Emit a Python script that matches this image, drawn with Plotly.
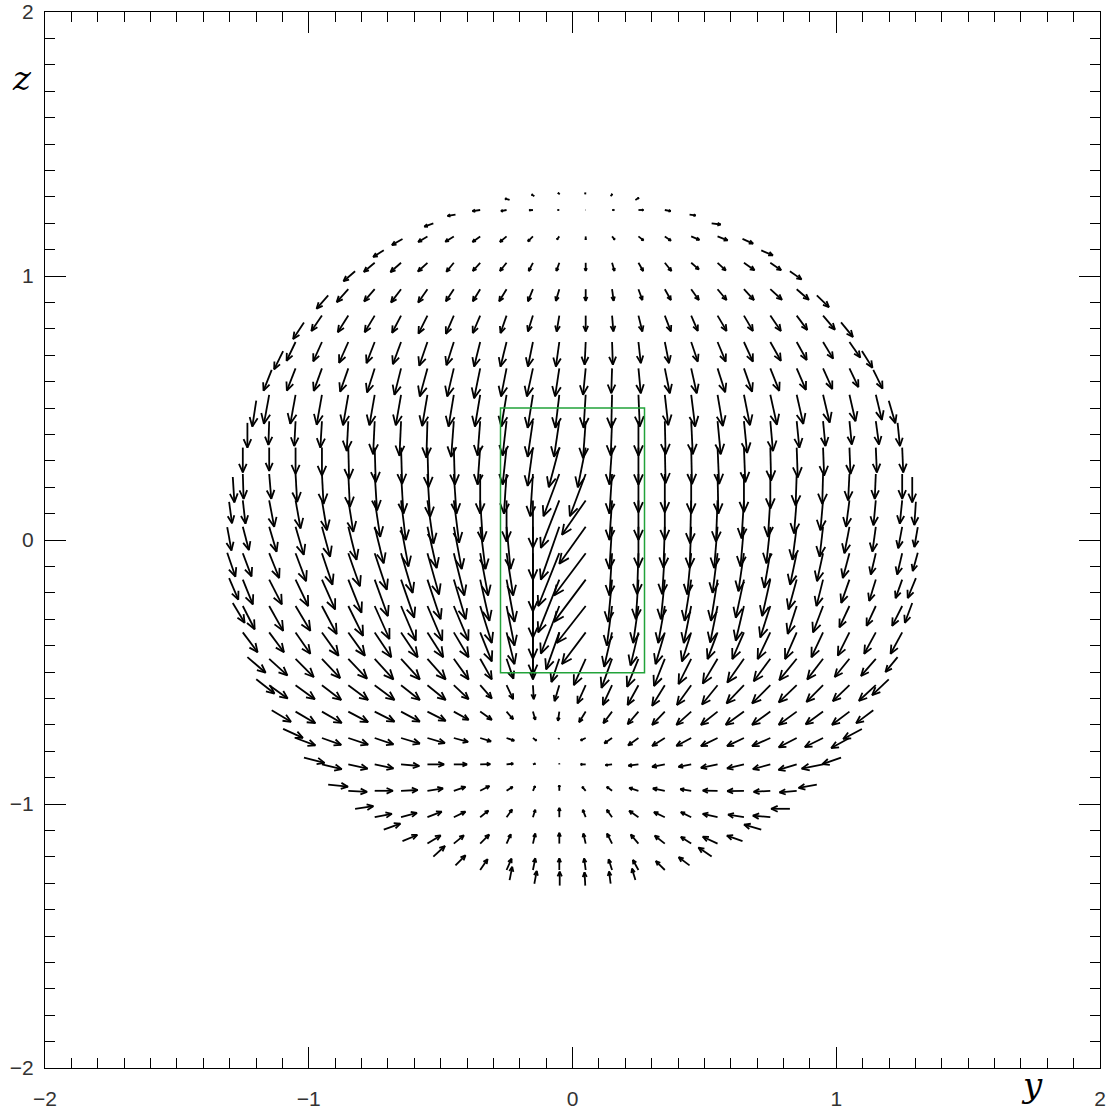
import math
import plotly.graph_objects as go

# ---------------- data ----------------
# nominal sample grid (axis units): column centres in y, row centres in z (top -> bottom)
COL_Y = [round(-1.35 + 0.1 * i, 2) for i in range(28)]
ROW_Z = [1.35, 1.25, 1.15, 1.05, 0.95, 0.85, 0.75, 0.65, 0.55, 0.45, 0.35, 0.25, 0.15, 0.05,
         -0.05, -0.15, -0.25, -0.35, -0.45, -0.55, -0.65, -0.75, -0.85, -0.95, -1.05, -1.15, -1.25, -1.35]
LIMB_RADIUS = 1.31      # samples outside this radius sit on the limb of the sphere
VECTOR_UNIT = 0.01      # axis length of one field unit

# horizontal (y) field component, one list per row, centred on y = 0
U_ROWS = [
    [-1.7, -1.0, -0.6, 0.0, 0.6, 1.3],
    [-3.4, -3.0, -2.9, -2.1, -1.4, -0.6, 0.1, 0.8, 1.9, 2.2, 2.3, 3.4],
    [-4.0, -4.0, -3.5, -3.2, -2.9, -2.5, -1.9, -0.9, 0.0, 1.0, 1.9, 2.3, 3.1, 3.8, 4.0, 4.4],
    [-4.4, -4.1, -4.0, -3.6, -2.8, -2.8, -2.5, -1.6, -1.1, 0.0, 0.9, 1.8, 2.5, 2.9, 3.1, 4.0, 4.1, 4.4],
    [-4.4, -4.4, -4.0, -3.8, -3.5, -3.0, -2.8, -2.8, -1.9, -1.3, 0.0, 0.6, 1.5, 2.3, 2.9, 3.4, 3.8, 4.4, 4.6, 4.6],
    [-4.1, -4.0, -4.0, -3.8, -3.4, -3.4, -3.0, -2.8, -2.3, -1.9, -1.0, 0.0, 0.5, 1.5, 2.3, 2.5, 3.4, 3.4, 4.0, 4.0, 4.5, 4.5],
    [-3.4, -3.4, -3.3, -3.5, -3.1, -3.1, -3.1, -2.8, -2.3, -2.3, -1.9, -1.3, -0.4, 0.3, 0.9, 1.6, 2.5, 3.1, 3.4, 4.0, 3.8, 3.8, 4.1, 4.0],
    [-3.1, -3.3, -3.1, -3.1, -2.9, -2.5, -2.9, -2.5, -2.3, -2.1, -2.3, -1.6, -1.0, -0.3, 0.9, 1.9, 2.1, 2.9, 3.1, 3.4, 3.5, 3.5, 3.4, 3.5],
    [-1.5, -2.0, -2.0, -2.0, -2.0, -2.0, -2.0, -2.0, -2.0, -2.0, -2.0, -2.0, -1.5, -0.8, -0.3, 0.5, 1.3, 1.5, 2.0, 2.3, 2.5, 2.5, 2.5, 2.3, 2.3, 2.5],
    [0.0, -0.3, -0.5, -0.6, -0.6, -0.6, -0.6, -0.4, -1.0, -1.0, -1.5, -2.0, -2.0, -1.0, -0.5, 0.0, 0.3, 0.6, 1.2, 1.2, 1.0, 1.0, 0.9, 0.9, 1.2, 0.9],
    [0.0, 0.0, 0.0, 0.0, 0.3, 0.4, 0.4, 0.4, 0.4, -1.0, -1.5, -2.0, -4.0, -3.0, -1.0, 0.0, 0.3, 0.3, 0.6, 0.5, 0.3, 0.4, 0.4, 0.4, 0.4, 0.4],
    [0.6, 0.3, 0.8, 0.6, 0.6, 0.6, 0.9, 0.9, 1.0, 1.0, 0.0, -1.0, -1.0, -6.0, -6.0, -1.0, 0.0, 0.0, 0.0, 0.3, 0.0, 0.0, -0.4, -0.3, -0.5, -0.4, 0.0, 0.0],
    [1.1, 1.0, 1.9, 1.9, 1.9, 1.9, 2.1, 1.8, 2.3, 2.0, 1.0, 0.0, 0.0, -7.0, -9.0, -1.0, 0.0, 0.0, -0.4, -0.6, -0.9, -0.9, -1.0, -1.0, -1.3, -0.9, -0.9, -0.6],
    [1.6, 2.3, 2.8, 3.1, 3.1, 3.1, 3.4, 2.8, 3.5, 3.0, 2.0, 1.5, 0.0, -7.0, -10.0, -1.0, 0.0, -0.5, -0.6, -1.3, -1.3, -1.5, -1.6, -1.3, -1.9, -1.3, -1.5, -1.3],
    [3.1, 3.3, 3.8, 4.0, 4.0, 4.4, 4.6, 4.4, 4.4, 4.0, 3.0, 2.5, 0.0, -8.0, -12.0, -1.0, -0.5, -1.0, -1.5, -1.9, -2.1, -2.3, -2.5, -2.3, -2.5, -1.9, -1.9, -1.9],
    [3.5, 3.8, 4.8, 4.8, 5.0, 5.0, 5.0, 5.0, 5.0, 4.5, 3.5, 3.0, 0.0, -8.0, -12.0, -1.5, -1.0, -1.5, -2.5, -2.5, -3.1, -3.1, -3.1, -2.5, -3.1, -2.5, -2.5, -3.1],
    [4.5, 4.5, 5.3, 5.6, 5.6, 5.6, 5.6, 5.6, 5.6, 5.5, 4.4, 3.0, 0.0, -7.0, -11.0, -2.0, -2.0, -2.5, -2.8, -2.8, -3.1, -3.8, -3.4, -3.8, -3.8, -3.5, -3.8, -2.8],
    [5.6, 5.6, 5.6, 6.3, 6.3, 6.3, 6.3, 6.0, 5.6, 4.4, 3.0, 0.0, -5.0, -9.0, -3.0, -3.0, -3.5, -3.5, -3.8, -4.4, -4.8, -4.4, -4.4, -4.4, -4.4, -4.4],
    [6.9, 6.9, 6.9, 6.9, 7.1, 7.1, 7.1, 6.9, 5.6, 4.4, 2.6, 0.0, -3.0, -4.5, -4.0, -4.3, -4.1, -4.8, -5.6, -6.3, -6.3, -6.6, -6.0, -5.6, -5.6, -4.6],
    [6.9, 7.0, 7.3, 7.3, 7.5, 7.5, 7.1, 6.9, 5.6, 4.4, 2.5, 0.3, -1.8, -3.1, -3.5, -4.1, -4.8, -5.4, -5.9, -6.6, -6.9, -6.8, -6.3, -6.3, -6.4, -6.3],
    [7.3, 7.5, 7.5, 7.5, 7.5, 7.1, 6.9, 5.6, 4.4, 2.5, 0.9, -0.5, -2.5, -3.3, -4.1, -4.8, -5.6, -6.3, -6.9, -6.9, -6.8, -6.6, -6.6, -6.5],
    [7.5, 7.5, 7.3, 7.5, 7.1, 7.1, 6.6, 5.4, 4.1, 2.9, 1.3, -0.3, -1.9, -2.9, -3.9, -4.8, -5.6, -6.3, -6.4, -6.9, -6.8, -6.9, -6.9, -7.1],
    [7.8, 7.5, 7.3, 7.1, 6.9, 6.3, 5.0, 3.8, 2.5, 0.9, 0.0, -1.9, -2.5, -3.8, -4.8, -4.8, -6.3, -6.4, -6.6, -6.9, -8.1, -7.1],
    [7.5, 7.1, 6.9, 6.3, 5.9, 4.4, 3.5, 2.3, 0.8, 0.0, -1.3, -2.0, -3.5, -4.5, -4.1, -5.6, -6.3, -6.3, -6.5, -6.9],
    [6.9, 6.5, 6.0, 5.4, 4.4, 3.1, 2.1, 0.9, 0.0, -1.1, -2.0, -3.5, -4.1, -3.9, -5.6, -6.0, -6.6, -7.1],
    [6.3, 5.6, 5.0, 3.8, 3.4, 1.6, 0.9, 0.0, -0.9, -1.9, -2.9, -3.8, -3.9, -5.6, -5.9, -6.5],
    [4.4, 3.8, 2.8, 1.9, 0.9, 0.0, -0.6, -1.3, -2.1, -3.4, -4.1, -5.0],
    [1.0, 0.9, 0.0, -0.3, -0.6, -1.3],
]

# vertical (z) field component, same layout
V_ROWS = [
    [0.5, 0.7, 0.6, 0.6, 0.8, 0.8],
    [-1.2, -0.5, -0.4, -0.4, -0.1, 0.0, 0.0, 0.0, 0.0, -0.4, -0.3, -0.4],
    [-2.5, -2.3, -2.1, -2.0, -2.1, -2.1, -1.9, -1.2, -1.2, -1.2, -1.5, -1.6, -1.3, -1.5, -1.8, -1.9],
    [-3.8, -3.4, -3.5, -3.3, -3.4, -3.1, -3.1, -3.1, -3.1, -3.1, -3.1, -3.1, -3.1, -2.5, -2.9, -2.8, -2.8, -3.1],
    [-5.0, -4.9, -4.6, -5.0, -5.0, -4.6, -4.6, -4.6, -4.6, -4.4, -4.4, -4.4, -4.1, -4.1, -4.1, -4.1, -4.1, -4.0, -4.0, -4.4],
    [-6.3, -5.8, -6.3, -6.3, -6.5, -6.8, -6.9, -6.6, -6.6, -6.0, -6.0, -6.0, -6.0, -6.0, -6.0, -5.8, -5.8, -5.8, -5.8, -5.4, -5.3, -5.5],
    [-6.9, -7.1, -7.3, -7.9, -8.0, -8.4, -9.0, -8.8, -9.3, -9.3, -9.3, -9.3, -8.6, -8.6, -8.0, -8.0, -7.4, -7.4, -7.4, -7.1, -6.8, -6.3, -5.9, -6.3],
    [-7.9, -8.4, -8.5, -8.8, -9.1, -10.0, -10.6, -10.6, -11.3, -10.6, -10.6, -10.6, -10.0, -9.4, -9.4, -9.4, -9.4, -9.0, -8.8, -8.5, -8.1, -7.8, -7.1, -7.1],
    [-9.8, -11.0, -11.0, -11.3, -11.5, -11.5, -11.5, -11.8, -12.0, -12.0, -12.0, -12.5, -12.5, -12.5, -12.5, -12.0, -11.5, -12.0, -11.8, -11.5, -11.3, -11.0, -10.5, -10.0, -9.5, -8.5],
    [-9.4, -9.0, -9.4, -10.0, -11.3, -12.5, -13.1, -13.8, -13.5, -13.0, -13.0, -13.5, -13.5, -14.0, -13.0, -13.0, -12.5, -12.5, -12.5, -12.0, -11.3, -10.0, -9.4, -8.8, -8.8, -8.8],
    [-9.4, -8.8, -10.0, -10.6, -11.9, -13.1, -13.8, -15.0, -14.0, -14.0, -14.0, -14.5, -15.0, -15.0, -14.0, -14.0, -13.5, -13.8, -13.8, -13.1, -12.5, -11.3, -10.6, -10.0, -9.4, -9.4],
    [-9.6, -9.4, -9.4, -10.6, -11.3, -12.5, -13.8, -15.0, -16.3, -15.0, -15.0, -15.0, -16.0, -16.0, -16.0, -15.0, -14.5, -14.5, -15.0, -15.0, -14.4, -13.1, -11.9, -11.3, -10.0, -9.4, -9.4, -9.6],
    [-8.1, -8.8, -10.0, -10.6, -11.3, -11.9, -13.8, -15.0, -16.3, -16.0, -15.6, -15.6, -18.0, -18.0, -13.0, -15.0, -15.0, -15.0, -16.3, -15.6, -14.4, -13.8, -12.5, -11.3, -10.0, -9.4, -8.8, -8.8],
    [-8.8, -8.8, -9.4, -10.6, -11.3, -12.5, -13.8, -15.0, -15.6, -16.0, -16.0, -16.0, -20.0, -20.0, -14.0, -16.0, -15.5, -15.5, -15.6, -15.6, -15.0, -13.8, -12.5, -11.3, -10.0, -9.4, -8.1, -7.5],
    [-9.0, -8.8, -9.4, -10.6, -11.9, -12.5, -13.8, -15.0, -15.6, -16.0, -16.0, -16.0, -22.0, -20.0, -16.0, -16.0, -15.5, -15.5, -15.6, -15.0, -14.4, -13.1, -11.9, -10.6, -9.4, -8.1, -8.1, -6.9],
    [-8.1, -9.4, -9.4, -10.0, -11.3, -12.5, -13.8, -14.4, -15.0, -15.0, -15.6, -16.0, -22.0, -20.0, -16.0, -16.0, -15.0, -15.0, -15.6, -15.6, -14.4, -13.8, -11.3, -10.0, -8.8, -8.1, -7.0, -7.5],
    [-7.5, -8.8, -9.4, -9.4, -10.6, -11.3, -12.5, -13.1, -13.1, -13.0, -14.0, -15.0, -20.0, -18.0, -14.0, -15.0, -14.0, -14.0, -14.0, -13.8, -13.1, -11.9, -10.6, -10.0, -8.1, -7.5, -7.5, -7.5],
    [-7.5, -7.5, -8.1, -8.8, -8.8, -9.4, -9.4, -9.4, -9.4, -11.0, -12.0, -16.0, -14.0, -12.0, -13.0, -12.5, -12.0, -11.0, -10.1, -10.1, -10.1, -10.1, -9.4, -8.8, -8.1, -8.1],
    [-5.9, -6.3, -6.9, -7.3, -7.5, -7.8, -7.8, -7.8, -7.8, -7.8, -7.5, -7.8, -8.8, -10.0, -11.0, -10.6, -10.3, -9.6, -9.4, -9.0, -8.5, -8.1, -7.8, -6.9, -6.5, -5.6],
    [-5.4, -5.0, -5.3, -5.6, -5.6, -5.6, -5.6, -5.6, -5.3, -5.0, -5.3, -5.3, -6.0, -6.9, -7.5, -7.5, -7.8, -7.5, -7.3, -6.9, -6.9, -6.5, -6.3, -6.0, -5.9, -6.0],
    [-4.4, -4.4, -4.3, -4.0, -3.8, -3.8, -3.5, -3.1, -3.1, -2.9, -3.1, -3.5, -4.0, -4.4, -4.8, -5.0, -5.0, -5.0, -5.0, -5.0, -5.0, -4.8, -5.0, -4.9],
    [-3.4, -2.8, -2.6, -2.5, -2.4, -2.1, -1.9, -1.5, -1.3, -1.0, -1.0, -0.4, -0.9, -2.0, -2.8, -3.0, -3.0, -3.1, -3.1, -3.1, -3.5, -3.4, -3.8, -3.8],
    [-2.0, -1.8, -1.6, -1.5, -0.6, 0.0, 0.0, 0.1, 0.3, 0.3, 0.0, 0.0, -0.3, -0.5, -0.9, -0.9, -1.3, -1.5, -1.8, -2.1, -1.6, -2.5],
    [-0.8, -0.4, 0.0, 0.3, 0.9, 1.5, 1.8, 1.5, 1.8, 2.1, 1.5, 1.5, 1.1, 0.9, 0.6, 0.1, -0.1, -0.4, -0.6, -1.3],
    [1.0, 1.3, 1.6, 2.1, 2.1, 2.5, 2.9, 2.8, 3.5, 2.8, 2.8, 2.4, 1.9, 1.9, 1.3, 1.0, 0.6, 0.0],
    [2.3, 2.3, 3.1, 3.1, 3.4, 3.5, 3.8, 4.1, 3.8, 3.8, 3.4, 3.0, 2.5, 2.6, 2.1, 1.9],
    [4.0, 3.8, 4.1, 4.3, 4.4, 4.4, 4.4, 4.0, 3.8, 3.4, 3.1, 3.4],
    [5.0, 4.8, 5.3, 5.0, 4.6, 4.3],
]

BOX_Y = [-0.273, 0.273]
BOX_Z = [-0.503, 0.500]
AXIS_RANGE = [-2, 2]
MAJOR_TICKS = [-2, -1, 0, 1, 2]

# ---------------- build arrows ----------------
HEAD_FRAC = 0.38
HEAD_MAX = 0.042
HEAD_ANG = math.radians(24)

xs, ys = [], []
for z_nom, urow, vrow in zip(ROW_Z, U_ROWS, V_ROWS):
    n = len(urow)
    start = (len(COL_Y) - n) // 2
    for y_nom, u, v in zip(COL_Y[start:start + n], urow, vrow):
        r = math.hypot(y_nom, z_nom)
        s = LIMB_RADIUS / r if r > LIMB_RADIUS else 1.0
        x0, y0 = y_nom * s, z_nom * s
        dx, dy = u * VECTOR_UNIT, v * VECTOR_UNIT
        L = math.hypot(dx, dy)
        if L < 1e-9:
            dx, dy, L = 0.0, 0.003, 0.003
        x1, y1 = x0 + dx, y0 + dy
        xs += [x0, x1, None]
        ys += [y0, y1, None]
        h = min(HEAD_FRAC * L, HEAD_MAX)
        a = math.atan2(dy, dx)
        bx1 = x1 - h * math.cos(a - HEAD_ANG)
        by1 = y1 - h * math.sin(a - HEAD_ANG)
        bx2 = x1 - h * math.cos(a + HEAD_ANG)
        by2 = y1 - h * math.sin(a + HEAD_ANG)
        xs += [bx1, x1, bx2, None]
        ys += [by1, y1, by2, None]

fig = go.Figure()
fig.add_trace(go.Scatter(x=xs, y=ys, mode="lines",
                         line=dict(color="black", width=1.8),
                         hoverinfo="skip", showlegend=False))

fig.add_shape(type="rect", x0=BOX_Y[0], x1=BOX_Y[1], y0=BOX_Z[0], y1=BOX_Z[1],
              line=dict(color="#22a33a", width=1.5), layer="above")

axis_common = dict(
    range=AXIS_RANGE, tickvals=MAJOR_TICKS, ticks="inside", ticklen=21, tickwidth=1,
    tickcolor="black", showline=True, linecolor="black", linewidth=1,
    mirror="allticks", showgrid=False, zeroline=False, automargin=False,
    minor=dict(dtick=0.1, ticks="inside", ticklen=10, tickwidth=1, tickcolor="black",
               showgrid=False),
    tickfont=dict(family="Liberation Sans, Arial, sans-serif", size=21, color="#333"),
)
fig.update_xaxes(**axis_common, ticklabelstandoff=12)
fig.update_yaxes(**axis_common, ticklabelstandoff=6)

fig.add_annotation(text="<i>y</i>", xref="paper", yref="paper", x=0.9355, y=-0.016,
                   showarrow=False, font=dict(family="DejaVu Serif, Liberation Serif, serif",
                                              size=34, color="black"),
                   xanchor="center", yanchor="middle")
fig.add_annotation(text="<i>z</i>", xref="paper", yref="paper", x=-0.0218, y=0.9375,
                   showarrow=False, font=dict(family="DejaVu Serif, Liberation Serif, serif",
                                              size=34, color="black"),
                   xanchor="center", yanchor="middle")

fig.update_layout(
    width=1110, height=1110,
    margin=dict(l=45, r=10, t=12, b=42, autoexpand=False),
    plot_bgcolor="white", paper_bgcolor="white",
    showlegend=False,
)

fig.write_html("out.html", config={"displayModeBar": False},
               post_script="document.body.style.margin='0';")
